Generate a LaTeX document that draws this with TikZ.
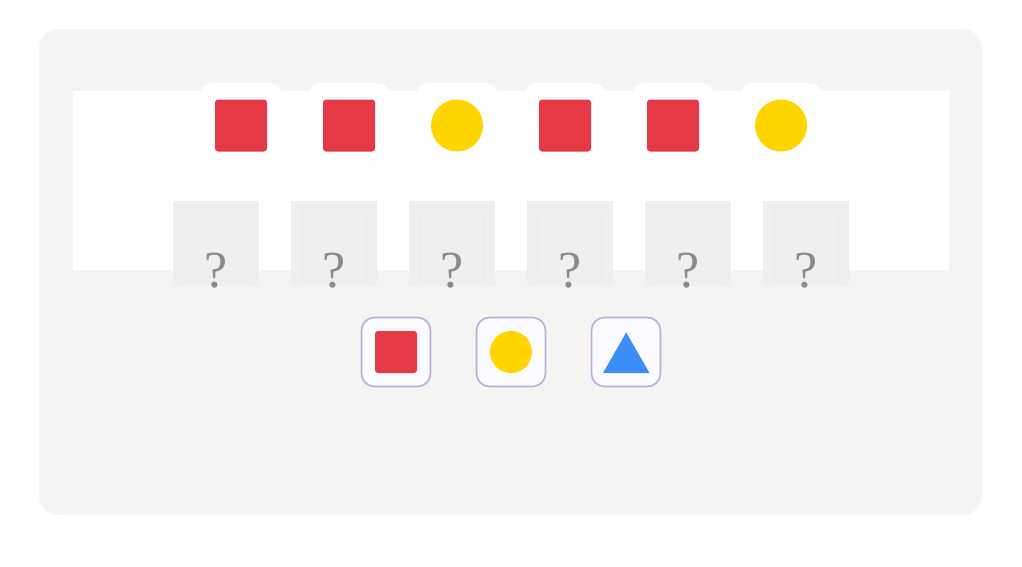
\documentclass[tikz,border=0pt]{standalone}
\usepackage{fontspec}
\newfontfamily\qfont{Liberation Serif}
\usetikzlibrary{positioning}
\definecolor{panel}{HTML}{F5F4F2}
\definecolor{redc}{HTML}{E63946}
\definecolor{yellowc}{HTML}{FFD500}
\definecolor{bluec}{HTML}{3A8EF6}
\definecolor{qbox}{HTML}{EFEFEF}
\definecolor{qinner}{HTML}{EDEDED}
\definecolor{qtext}{HTML}{8A8A8A}
\definecolor{choiceborder}{HTML}{B9AED8}
\definecolor{choicefill}{HTML}{FBFAFF}
\tikzset{
  sq/.style={fill=redc, rounded corners=3pt, minimum size=#1, inner sep=0pt, draw=none},
  circ/.style={circle, fill=yellowc, minimum size=#1, inner sep=0pt, draw=none},
  tab/.style={fill=white, rounded corners=12pt, minimum width=82pt, minimum height=40pt, inner sep=0pt},
  qbx/.style={fill=qbox, minimum width=86pt, minimum height=85pt, inner sep=0pt},
  qmark/.style={text=qtext, font=\qfont\fontsize{52}{52}\selectfont, inner sep=0pt, anchor=base},
  choice/.style={draw=choiceborder, line width=1.6pt, fill=choicefill, rounded corners=13pt, minimum size=69pt, inner sep=0pt}
}
\begin{document}
\begin{tikzpicture}[x=1pt,y=-1pt]
\useasboundingbox (0,0) rectangle (1022,566);
\fill[white] (0,0) rectangle (1022,566);
\fill[panel, rounded corners=20pt] (39,29) rectangle (982,515);
% tabs
\foreach \i/\x in {1/241,2/349,3/457,4/565,5/673,6/781}{
  \node[tab] (tab\i) at (\x,103) {};
}
\fill[white] (73,91) rectangle (949,270);
% top sequence
\node[sq=52pt] (s1) at (241,125.5) {};
\node[sq=52pt] (s2) at (349,125.5) {};
\node[circ=52pt] (s3) at (457,125.5) {};
\node[sq=52pt] (s4) at (565,125.5) {};
\node[sq=52pt] (s5) at (673,125.5) {};
\node[circ=52pt] (s6) at (781,125.5) {};
% question boxes
\foreach \i/\x in {1/216,2/334,3/452,4/570,5/688,6/806}{
  \node[qbx] (q\i) at (\x,243.5) {};
  \fill[qinner] (\x-34,210) rectangle (\x+34,282);
  \fill[qbox] (\x-30,214) rectangle (\x+30,278);
  \node[qmark] (qm\i) at (\x,287) {?};
}
% choices
\node[choice] (c1) at (396,352) {};
\node[choice] (c2) at (511,352) {};
\node[choice] (c3) at (626,352) {};
\node[sq=42pt] (cs) at (c1) {};
\node[circ=42pt] (cc) at (c2) {};
\fill[bluec] (603,373) -- (649.5,373) -- (626.2,332.5) -- cycle;
\end{tikzpicture}
\end{document}
